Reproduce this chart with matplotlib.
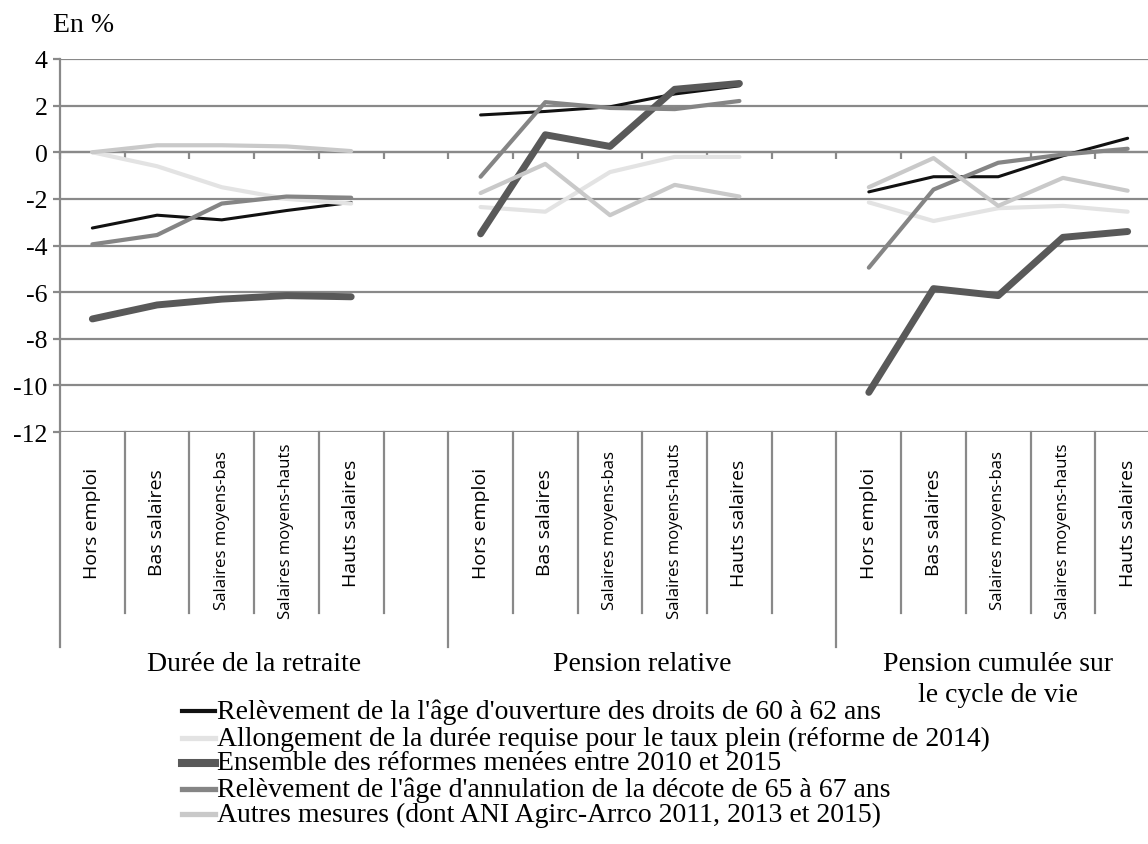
import matplotlib
matplotlib.use("Agg")
import matplotlib.pyplot as plt

groups = ["Durée de la retraite", "Pension relative", "Pension cumulée sur\nle cycle de vie"]
categories = ["Hors emploi", "Bas salaires", "Salaires moyens-bas", "Salaires moyens-hauts", "Hauts salaires"]

# values in %, 5 categories for each of the 3 groups
releve_60_62 = [-3.25, -2.7, -2.9, -2.5, -2.15, 1.6, 1.75, 1.95, 2.5, 2.85, -1.7, -1.05, -1.05, -0.15, 0.6]
allongement = [0.0, -0.6, -1.5, -2.0, -2.2, -2.35, -2.55, -0.85, -0.2, -0.2, -2.15, -2.95, -2.4, -2.3, -2.55]
ensemble = [-7.15, -6.55, -6.3, -6.15, -6.2, -3.5, 0.75, 0.25, 2.7, 2.95, -10.3, -5.85, -6.15, -3.65, -3.4]
decote_65_67 = [-3.95, -3.55, -2.2, -1.9, -1.95, -1.05, 2.15, 1.9, 1.85, 2.2, -4.95, -1.6, -0.45, -0.1, 0.15]
autres = [0.0, 0.3, 0.3, 0.25, 0.05, -1.75, -0.5, -2.7, -1.4, -1.9, -1.5, -0.25, -2.3, -1.1, -1.65]

series = [
    ("Relèvement de la l'âge d'ouverture des droits de 60 à 62 ans", releve_60_62, "#111111", 2.2),
    ("Allongement de la durée requise pour le taux plein (réforme de 2014)", allongement, "#e3e3e3", 3.0),
    ("Ensemble des réformes menées entre 2010 et 2015", ensemble, "#595959", 5.0),
    ("Relèvement de l'âge d'annulation de la décote de 65 à 67 ans", decote_65_67, "#858585", 3.0),
    ("Autres mesures (dont ANI Agirc-Arrco 2011, 2013 et 2015)", autres, "#c9c9c9", 3.0),
]

W, H = 1148, 845
fig = plt.figure(figsize=(W / 100, H / 100), dpi=100)
ax_left, ax_right, ax_top, ax_bot = 60, 1160, 60, 433
ax = fig.add_axes([ax_left / W, 1 - ax_bot / H, (ax_right - ax_left) / W, (ax_bot - ax_top) / H])

serif = "Liberation Serif"
grid_col = "#898989"
n_cat = len(categories)
slot = n_cat + 1
n_total = slot * len(groups) - 1

for label, vals, col, lw in series:
    for g in range(len(groups)):
        xs = [g * slot + i + 0.5 for i in range(n_cat)]
        ys = vals[g * n_cat:(g + 1) * n_cat]
        ax.plot(xs, ys, color=col, lw=lw, solid_joinstyle="round", solid_capstyle="round", zorder=3)

ax.set_xlim(0, n_total)
ax.set_ylim(-12, 4)
ax.set_yticks(range(-12, 5, 2))
ax.set_yticklabels([str(v) for v in range(-12, 5, 2)], fontfamily=serif, fontsize=18.5)
ax.yaxis.grid(True, color=grid_col, lw=1.6)
ax.set_axisbelow(True)
ax.tick_params(axis="y", length=5, width=1.6, color=grid_col, pad=4)

ax.spines["top"].set_visible(False)
ax.spines["right"].set_visible(False)
ax.spines["left"].set_color(grid_col)
ax.spines["left"].set_linewidth(1.6)
ax.spines["bottom"].set_position(("data", 0))
ax.spines["bottom"].set_color(grid_col)
ax.spines["bottom"].set_linewidth(1.6)
ax.set_xticks(range(0, n_total + 1))
ax.set_xticklabels([])
ax.tick_params(axis="x", length=5, width=1.6, color=grid_col, direction="out")

# category area below the plot
tr = ax.get_xaxis_transform()
span = ax_bot - ax_top
def yfrac(px):
    return (ax_bot - px) / span

for b in range(0, n_total + 1):
    end = 648 if b % slot == 0 else 614
    ax.plot([b, b], [0, yfrac(end)], transform=tr, color=grid_col, lw=1.6, clip_on=False)

for g, gname in enumerate(groups):
    for i, cat in enumerate(categories):
        short = len(cat) < 15
        ax.text(g * slot + i + 0.5, yfrac(523 if short else 531), cat, transform=tr, rotation=90,
                ha="center", va="center", fontsize=14 if short else 12.1, fontfamily="Open Sans")
    start, end = g * slot, min((g + 1) * slot, n_total)
    ax.text((start + end) / 2, yfrac(652), gname, transform=tr, ha="center", va="top",
            fontsize=20, fontfamily=serif, linespacing=1.3)

fig.text(53 / W, 1 - 26 / H, "En %", fontsize=20, fontfamily=serif, va="center")

# legend, drawn row by row
rows_y = [712, 739, 764, 790, 815]
for (label, vals, col, lw), ry in zip(series, rows_y):
    yy = 1 - ry / H
    fig.add_artist(plt.Line2D([182 / W, 215 / W], [yy, yy], color=col, lw=lw + 0.8))
    fig.text(217 / W, yy, label, fontsize=20, fontfamily=serif, va="center")

fig.savefig("out.png", dpi=100)
